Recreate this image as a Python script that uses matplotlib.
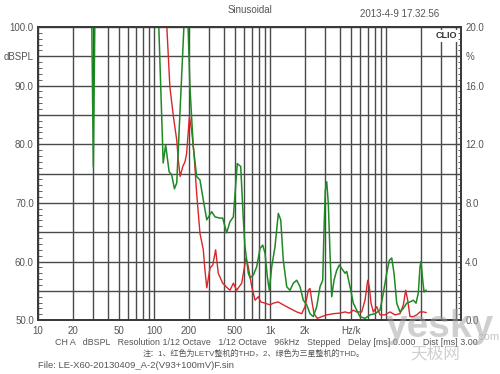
import numpy as np
import matplotlib
matplotlib.use("Agg")
import matplotlib.pyplot as plt
from matplotlib.ticker import FixedLocator, NullFormatter

plt.rcParams['font.family'] = ['Liberation Sans', 'Noto Sans CJK SC', 'DejaVu Sans']

# green curve (Samsung THD), values above 100 run off the top of the chart
green_f = [28, 30, 32, 100, 110, 120, 126, 135, 142, 150, 157, 182, 196, 204, 218, 233, 249,
           266, 285, 314, 336, 371, 391, 423, 452, 483, 522, 559, 589, 609, 650, 673, 718,
           768, 820, 865, 906, 948, 986, 1034, 1104, 1179, 1237, 1302, 1393, 1487, 1588,
           1699, 1814, 1937, 2072, 2212, 2362, 2527, 2698, 2847, 2921, 2998, 3082, 3181,
           3290, 3403, 3562, 3758, 3957, 4150, 4433, 4585, 4894, 5225, 5590, 5969, 6592,
           7280, 8040, 8878, 9478, 10140, 10680, 11200, 11720, 12370, 13200, 14100, 15080,
           16100, 17190, 18140, 18980, 19640, 20030, 20720, 21270, 22120]
green_db = [130, 76.1, 130, 130, 100, 76.8, 79.9, 75.3, 74.8, 72.4, 73.4, 101, 101, 89.8,
            79.6, 74.5, 73.9, 70.5, 67.1, 68.5, 67.6, 67.4, 67.4, 64.9, 66.8, 67.6, 76.7,
            76.2, 67.1, 62.5, 58.0, 57.2, 57.7, 59.1, 62.2, 62.8, 61.4, 57.4, 55.1, 59.1,
            62.5, 68.2, 67.1, 60.2, 55.7, 55.1, 56.3, 56.8, 55.7, 53.4, 52.6, 51.1, 50.6,
            52.3, 55.7, 56.8, 65.4, 72.2, 73.6, 69.9, 61.4, 54.0, 56.8, 58.5, 59.4, 58.8,
            58.0, 58.3, 55.7, 52.9, 51.7, 50.6, 50.3, 50.9, 51.1, 51.7, 54.6, 58.0, 60.2,
            60.6, 58.0, 52.9, 51.4, 52.0, 52.9, 53.1, 53.4, 52.9, 54.6, 59.1, 60.0, 56.8,
            54.8, 55.1]

# red curve (LETV THD)
red_f = [110, 129, 137, 147, 157, 162, 168, 177, 185, 191, 202, 211, 221, 233, 249, 266,
         275, 285, 304, 321, 340, 358, 391, 423, 452, 483, 516, 570, 621, 650, 696, 743,
         793, 832, 906, 1000, 1068, 1179, 1302, 1487, 1699, 1876, 2003, 2139, 2212, 2288,
         2395, 2557, 2791, 3082, 3513, 4012, 4433, 4826, 5225, 5590, 6172, 6592, 6954,
         7178, 7427, 7774, 8316, 8878, 9804, 10830, 11960, 13200, 14100, 14780, 15380,
         16100, 17190, 18400, 19640, 20970, 22120]
red_db = [120, 100, 89.8, 84.7, 80.7, 77.3, 74.5, 76.2, 77.0, 78.4, 84.7, 82.4, 78.5, 71.7,
          64.8, 62.0, 58.5, 55.5, 58.9, 59.4, 62.0, 58.0, 56.3, 55.6, 55.1, 56.3, 55.1,
          56.3, 60.6, 59.1, 55.7, 53.4, 54.0, 53.1, 52.9, 52.6, 52.9, 53.1, 52.6, 52.0,
          51.4, 51.1, 52.3, 55.1, 55.4, 53.4, 51.1, 50.3, 50.6, 50.9, 51.1, 51.2, 51.4,
          51.2, 51.7, 51.4, 51.4, 53.4, 56.8, 55.7, 52.9, 51.4, 52.3, 50.9, 50.9, 51.4,
          50.9, 51.1, 52.6, 55.1, 53.4, 50.6, 50.6, 50.9, 51.4, 51.4, 51.3]

x_ticks = [10, 20, 50, 100, 200, 500, 1000, 2000, 5000]
x_labels = ['10', '20', '50', '100', '200', '500', '1k', '2k', 'Hz/k']
db_ticks = [50, 55, 60, 65, 70, 75, 80, 85, 90, 95, 100]
db_labels = ['50.0', '', '60.0', '', '70.0', '', '80.0', '', '90.0', 'dBSPL', '100.0']
pct_ticks = [0, 2, 4, 6, 8, 10, 12, 14, 16, 18, 20]
pct_labels = ['0.0', '', '4.0', '', '8.0', '', '12.0', '', '16.0', '%', '20.0']

txt = '#555555'
gridc = '#4a4a4a'

fig = plt.figure(figsize=(5, 3.74), dpi=100)
ax = fig.add_axes([0.076, 0.144, 0.846, 0.784])
ax.set_xscale('log')
ax.set_xlim(10, 44300)
ax.set_ylim(50, 100)

# log grid: every integer multiple of each decade
grid_x = [m * 10 ** d for d in range(1, 5) for m in range(1, 10) if m * 10 ** d <= 40000]
for gx in grid_x:
    ax.axvline(gx, color=gridc, lw=1.0, zorder=1)
for gy in db_ticks:
    ax.axhline(gy, color=gridc, lw=1.0, zorder=1)

ax.plot(green_f, green_db, color='#1f8a24', lw=1.1, zorder=3)
ax.plot(red_f, red_db, color='#d8262b', lw=1.0, zorder=2)

ax.xaxis.set_major_locator(FixedLocator(x_ticks))
ax.xaxis.set_minor_locator(FixedLocator([]))
ax.set_xticklabels(x_labels)
ax.xaxis.set_minor_formatter(NullFormatter())
ax.set_yticks(db_ticks)
ax.set_yticklabels(db_labels)
ax.set_yticks(np.arange(50, 101, 1), minor=True)
ax.tick_params(axis='x', length=0, pad=4, labelsize=7, labelcolor=txt)
ax.tick_params(axis='y', which='major', length=0, pad=3, labelsize=7, labelcolor=txt)
ax.tick_params(axis='y', which='minor', direction='in', length=3, color=gridc, width=0.6)

ax2 = ax.twinx()
ax2.set_ylim(0, 20)
ax2.set_yticks(pct_ticks)
ax2.set_yticklabels(pct_labels)
ax2.set_yticks(np.arange(0, 20.01, 0.4), minor=True)
ax2.tick_params(axis='y', which='major', direction='in', length=4, pad=3, labelsize=7,
                labelcolor=txt, color=gridc)
ax2.tick_params(axis='y', which='minor', direction='in', length=2.5, color=gridc, width=0.6)

for a in (ax, ax2):
    for s in a.spines.values():
        s.set_color('#3a3a3a')
        s.set_linewidth(1.3)

ax.text(0.992, 0.985, 'CLIO', transform=ax.transAxes, ha='right', va='top',
        fontsize=6.5, fontweight='bold', color='#333333',
        bbox=dict(facecolor='white', edgecolor='none', pad=1.2), zorder=5)

fig.text(0.5, 0.972, 'Sinusoidal', ha='center', va='center', fontsize=7, color=txt)
fig.text(0.8, 0.962, '2013-4-9 17.32.56', ha='center', va='center', fontsize=7, color=txt)
fig.text(0.11, 0.083, 'CH A   dBSPL   Resolution 1/12 Octave   1/12 Octave   96kHz   Stepped'
         '   Delay [ms] 0.000   Dist [ms] 3.00', ha='left', va='center', fontsize=6.4, color=txt)
fig.text(0.286, 0.055, '注：1、红色为LETV整机的THD，2、绿色为三星整机的THD。', ha='left',
         va='center', fontsize=5.8, color=txt)
fig.text(0.076, 0.024, 'File: LE-X60-20130409_A-2(V93+100mV)F.sin', ha='left', va='center',
         fontsize=6.8, color=txt)

# site watermark
fig.text(0.88, 0.125, 'yesky', ha='center', va='center', fontsize=28, fontweight='bold',
         color='#a0a0a0', alpha=0.5, zorder=10)
fig.text(0.975, 0.1, '.com', ha='center', va='center', fontsize=8, color='#a0a0a0', alpha=0.6)
fig.text(0.87, 0.055, '天极网', ha='center', va='center', fontsize=12, color='#a0a0a0', alpha=0.5)

fig.savefig('out.png', dpi=100)
